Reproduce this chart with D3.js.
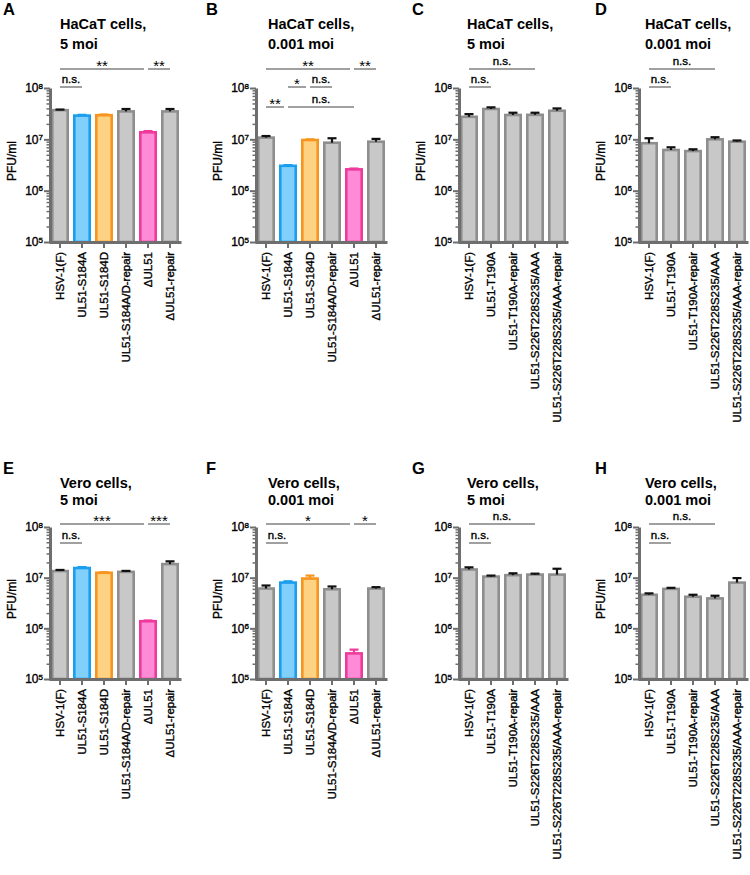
<!DOCTYPE html>
<html><head><meta charset="utf-8">
<script src="https://cdn.jsdelivr.net/npm/d3@7"></script>
<style>
body{margin:0;background:#fff}
svg{display:block}
text{font-family:"Liberation Sans",Arial,Helvetica,sans-serif;fill:#000}
.med{stroke:#000;stroke-width:0.35px}
</style>
</head><body>
<svg id="c" width="750" height="875"></svg>
<script>
// ---------- data ----------
const catsS184 = ["HSV-1(F)","UL51-S184A","UL51-S184D","UL51-S184A/D-repair","ΔUL51","ΔUL51-repair"];
const catsT190 = ["HSV-1(F)","UL51-T190A","UL51-T190A-repair","UL51-S226T228S235/AAA","UL51-S226T228S235/AAA-repair"];
const colorsS184 = ["grey","blue","orange","grey","pink","grey"];
const colorsT190 = ["grey","grey","grey","grey","grey"];
const yTickValues = [1e5,1e6,1e7,1e8];

const valA = [3.7e7, 2.9e7, 2.95e7, 3.5e7, 1.37e7, 3.5e7];
const errA = [3.8e7, 3.0e7, 3.05e7, 3.9e7, 1.45e7, 3.9e7];
const valB = [1.08e7, 3.05e6, 9.7e6, 8.6e6, 2.6e6, 9.0e6];
const errB = [1.16e7, 3.15e6, 1.0e7, 1.05e7, 2.7e6, 1.02e7];
const valC = [2.75e7, 3.9e7, 2.98e7, 3.0e7, 3.6e7];
const errC = [3.1e7, 4.2e7, 3.3e7, 3.3e7, 4.0e7];
const valD = [8.4e6, 6.2e6, 5.9e6, 1.0e7, 9.0e6];
const errD = [1.05e7, 7.0e6, 6.4e6, 1.1e7, 9.5e6];
const valE = [1.35e7, 1.55e7, 1.25e7, 1.3e7, 1.38e6, 1.85e7];
const errE = [1.42e7, 1.62e7, 1.28e7, 1.36e7, 1.43e6, 2.1e7];
const valF = [6.1e6, 8.0e6, 9.6e6, 5.9e6, 3.2e5, 6.1e6];
const errF = [7.0e6, 8.5e6, 1.1e7, 6.7e6, 3.8e5, 6.5e6];
const valG = [1.45e7, 1.05e7, 1.12e7, 1.15e7, 1.15e7];
const errG = [1.6e7, 1.1e7, 1.22e7, 1.2e7, 1.5e7];
const valH = [4.6e6, 6.0e6, 4.2e6, 3.9e6, 8.0e6];
const errH = [4.9e6, 6.3e6, 4.6e6, 4.4e6, 9.8e6];

// significance annotations: [fromIndex, toIndex, label, level]
const annA = [[0,4,"**",0],[4,5,"**",0],[0,1,"n.s.",1]];
const annB = [[0,4,"**",0],[4,5,"**",0],[1,2,"*",1],[2,3,"n.s.",1],[0,1,"**",2],[1,4,"n.s.",2]];
const annC = [[0,3,"n.s.",0],[0,1,"n.s.",1]];
const annD = [[0,3,"n.s.",0],[0,1,"n.s.",1]];
const annE = [[0,4,"***",0],[4,5,"***",0],[0,1,"n.s.",1]];
const annF = [[0,4,"*",0],[4,5,"*",0],[0,1,"n.s.",1]];
const annG = [[0,3,"n.s.",0],[0,1,"n.s.",1]];
const annH = [[0,3,"n.s.",0],[0,1,"n.s.",1]];

// ---------- layout ----------
const rows = {
  top: {y0: 88, y1: 242, letterY: 15, titleY: [29, 49], levels: [69, 87, 107]},
  bot: {y0: 527, y1: 679, letterY: 474, titleY: [488, 505], levels: [524, 543]}
};
const cols = [
  {axisX: 50, letterX: 3, titleX: 60},
  {axisX: 256, letterX: 206, titleX: 268},
  {axisX: 459, letterX: 412, titleX: 467},
  {axisX: 639, letterX: 595, titleX: 645}
];
const palette = {
  grey:   {fill: "#c8c8c8", stroke: "#8e8e8e", err: "#111"},
  blue:   {fill: "#80d0fb", stroke: "#1c9eee", err: "#1c9eee"},
  orange: {fill: "#fdd282", stroke: "#f7951f", err: "#f7951f"},
  pink:   {fill: "#ff8bd7", stroke: "#ee3a9c", err: "#ee3a9c"}
};
const axisColor = "#6e6e6e";

const panels = [
  {letter:"A", row:"top", col:0, title:["HaCaT cells,","5 moi"], cats:catsS184, colors:colorsS184, vals:valA, errs:errA, ann:annA, ylabel:true},
  {letter:"B", row:"top", col:1, title:["HaCaT cells,","0.001 moi"], cats:catsS184, colors:colorsS184, vals:valB, errs:errB, ann:annB, ylabel:true},
  {letter:"C", row:"top", col:2, title:["HaCaT cells,","5 moi"], cats:catsT190, colors:colorsT190, vals:valC, errs:errC, ann:annC, ylabel:true},
  {letter:"D", row:"top", col:3, title:["HaCaT cells,","0.001 moi"], cats:catsT190, colors:colorsT190, vals:valD, errs:errD, ann:annD, ylabel:true},
  {letter:"E", row:"bot", col:0, title:["Vero cells,","5 moi"], cats:catsS184, colors:colorsS184, vals:valE, errs:errE, ann:annE, ylabel:true},
  {letter:"F", row:"bot", col:1, title:["Vero cells,","0.001 moi"], cats:catsS184, colors:colorsS184, vals:valF, errs:errF, ann:annF, ylabel:true},
  {letter:"G", row:"bot", col:2, title:["Vero cells,","5 moi"], cats:catsT190, colors:colorsT190, vals:valG, errs:errG, ann:annG, ylabel:false},
  {letter:"H", row:"bot", col:3, title:["Vero cells,","0.001 moi"], cats:catsT190, colors:colorsT190, vals:valH, errs:errH, ann:annH, ylabel:true}
];

const svg = d3.select("#c");
const minorTicks = [];
for (let k = 5; k < 8; k++) for (let m = 2; m <= 9; m++) minorTicks.push(m * Math.pow(10, k));

panels.forEach(p => {
  const r = rows[p.row], c = cols[p.col];
  const g = svg.append("g");
  const step = 22;
  const x = d3.scaleBand().domain(p.cats)
    .range([c.axisX - 1, c.axisX - 1 + step * p.cats.length])
    .paddingInner(0.3).paddingOuter(0.15);
  const y = d3.scaleLog().domain([1e5, 1e8]).range([r.y1, r.y0]);
  const cx = d => x(d) + x.bandwidth() / 2;

  // letter & title
  g.append("text").attr("x", c.letterX).attr("y", r.letterY)
    .attr("font-size", 16.5).attr("font-weight", "bold").text(p.letter);
  p.title.forEach((t, i) => g.append("text").attr("x", c.titleX).attr("y", r.titleY[i])
    .attr("font-size", 14.5).attr("font-weight", "bold").text(t));

  // bars
  const data = p.cats.map((cat, i) => ({cat, v: p.vals[i], e: p.errs[i], col: palette[p.colors[i]]}));
  g.selectAll("rect.bar").data(data).join("rect").attr("class", "bar")
    .attr("x", d => x(d.cat)).attr("width", x.bandwidth())
    .attr("y", d => y(d.v)).attr("height", d => y(1e5) - y(d.v))
    .attr("fill", d => d.col.fill).attr("stroke", d => d.col.stroke).attr("stroke-width", 2.6);

  // error bars (upper)
  const eb = g.selectAll("g.err").data(data).join("g").attr("class", "err");
  eb.append("line").attr("x1", d => cx(d.cat)).attr("x2", d => cx(d.cat))
    .attr("y1", d => y(d.v)).attr("y2", d => y(d.e))
    .attr("stroke", d => d.col.err).attr("stroke-width", 2.2);
  eb.append("line").attr("x1", d => cx(d.cat) - 4.5).attr("x2", d => cx(d.cat) + 4.5)
    .attr("y1", d => y(d.e)).attr("y2", d => y(d.e))
    .attr("stroke", d => d.col.err).attr("stroke-width", 2.2);

  // y axis minor
  const gm = g.append("g").attr("transform", `translate(${c.axisX},0)`)
    .call(d3.axisLeft(y).tickValues(minorTicks).tickSize(3.5).tickSizeOuter(0).tickFormat(""));
  gm.select(".domain").remove();
  gm.selectAll(".tick line").attr("stroke", axisColor).attr("stroke-width", 1.5);

  // y axis major
  const gy = g.append("g").attr("transform", `translate(${c.axisX},0)`)
    .call(d3.axisLeft(y).tickValues(yTickValues).tickSize(6).tickSizeOuter(0).tickPadding(1));
  gy.select(".domain").attr("stroke", axisColor).attr("stroke-width", 3);
  gy.selectAll(".tick line").attr("stroke", axisColor).attr("stroke-width", 2);
  gy.selectAll(".tick text").attr("font-size", 12).attr("font-family", null).attr("class", "med").each(function(d) {
    const t = d3.select(this);
    t.text("10");
    t.append("tspan").attr("dy", "-0.45em").attr("font-size", "8px").text(Math.round(Math.log10(d)));
  });

  // x axis
  const gx = g.append("g").attr("transform", `translate(0,${r.y1})`)
    .call(d3.axisBottom(x).tickSize(6).tickSizeOuter(0));
  gx.select(".domain").attr("stroke", axisColor).attr("stroke-width", 3);
  gx.selectAll(".tick line").attr("stroke", axisColor).attr("stroke-width", 2);
  gx.selectAll(".tick text").attr("font-size", 11.5).attr("font-family", null).attr("class", "med")
    .attr("transform", "rotate(-90)").attr("x", -10).attr("y", 0).attr("dy", "0.36em")
    .attr("text-anchor", "end");

  // y label
  if (p.ylabel) {
    g.append("text").attr("class", "med")
      .attr("transform", `translate(${c.axisX - 34},${(r.y0 + r.y1) / 2 - 4}) rotate(-90)`)
      .attr("text-anchor", "middle").attr("font-size", 12).text("PFU/ml");
  }

  // annotations
  p.ann.forEach(a => {
    const [i, j, label, level] = a;
    const rightAbut = p.ann.some(b => b !== a && b[3] === level && b[0] === j);
    const x1 = cx(p.cats[i]);
    const x2 = cx(p.cats[j]) - (rightAbut ? 4 : 0);
    const ly = r.levels[level];
    g.append("line").attr("x1", x1).attr("x2", x2).attr("y1", ly).attr("y2", ly)
      .attr("stroke", "#808080").attr("stroke-width", 1.5);
    const isStar = label.indexOf("*") === 0;
    g.append("text").attr("x", (x1 + x2) / 2).attr("y", isStar ? ly + 2 : ly - 4.5)
      .attr("class", isStar ? null : "med")
      .attr("text-anchor", "middle").attr("font-size", isStar ? 15 : 11.5).text(label);
  });
});
</script>
</body></html>
